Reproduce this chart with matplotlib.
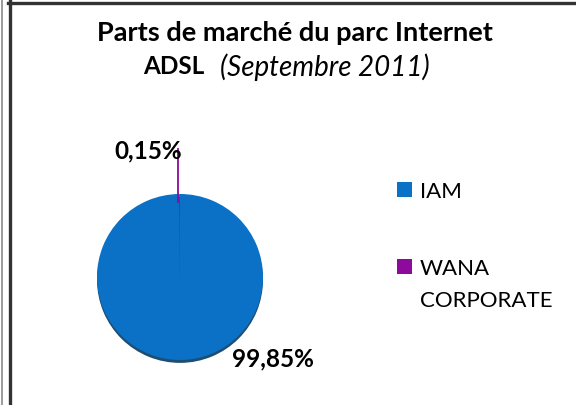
import matplotlib
matplotlib.use("Agg")
import matplotlib.pyplot as plt
from matplotlib.lines import Line2D
from matplotlib.patches import Rectangle
from matplotlib.transforms import Affine2D

# data
operators = ["IAM", "WANA\nCORPORATE"]
shares = [99.85, 0.15]
share_labels = ["99,85%", "0,15%"]
colors = ["#0A71C6", "#8E0A9C"]

W, H = 576, 406
plt.rcParams["font.family"] = ["Lato", "DejaVu Sans"]
fig = plt.figure(figsize=(W / 100, H / 100), dpi=100)
px = Affine2D().scale(1 / W, -1 / H).translate(0, 1) + fig.transFigure

# frame lines
fig.add_artist(Line2D([1.5, 1.5], [0, H], transform=px, color="#8a8a8a", lw=1.2))
fig.add_artist(Line2D([9.5, 9.5], [2, H], transform=px, color="#333333", lw=2.4))
fig.add_artist(Line2D([8, W], [3.5, 3.5], transform=px, color="#333333", lw=2.4))

# title
fig.text(295, 33, "Parts de marché du parc Internet", transform=px,
         ha="center", va="center", fontsize=19.5, fontweight="bold")
fig.text(143, 67, "ADSL", transform=px, ha="left", va="center",
         fontsize=17.5, fontweight="bold")
fig.text(220, 67, "(Septembre 2011)", transform=px, ha="left", va="center",
         fontsize=20, fontstyle="italic")

# pie: centre (180, 278) px, radius 83 px
ax = fig.add_axes([60 / W, 6 / H, 300 / W, 280 / H])
wedges, _ = ax.pie(shares, colors=colors, startangle=90, counterclock=False,
                   radius=1, wedgeprops=dict(linewidth=0),
                   shadow=dict(ox=0.0, oy=-0.025, shade=0.5, alpha=0.9))
ax.set_xlim(-120 / 83, 180 / 83)
ax.set_ylim(-122 / 83, 158 / 83)
ax.set_aspect("auto")
ax.axis("off")

# leader line for the small slice
ax.plot([-0.02, -0.02], [0.9, 1.54], color=colors[1], lw=1.3)
ax.text(0.03, 1.53, share_labels[1], ha="right", va="center",
        fontsize=17.5, fontweight="bold")
ax.text(0.63, -0.97, share_labels[0], ha="left", va="center",
        fontsize=17.5, fontweight="bold")

# legend
for i, (lab, col) in enumerate(zip(operators, colors)):
    y = 183 + i * 77
    fig.add_artist(Rectangle((397, y), 15, 15, transform=px, facecolor=col,
                             edgecolor="none"))
    fig.text(420, y - 1, lab, transform=px, ha="left", va="top",
             fontsize=16, linespacing=1.75)

fig.savefig("out.png", dpi=100)
